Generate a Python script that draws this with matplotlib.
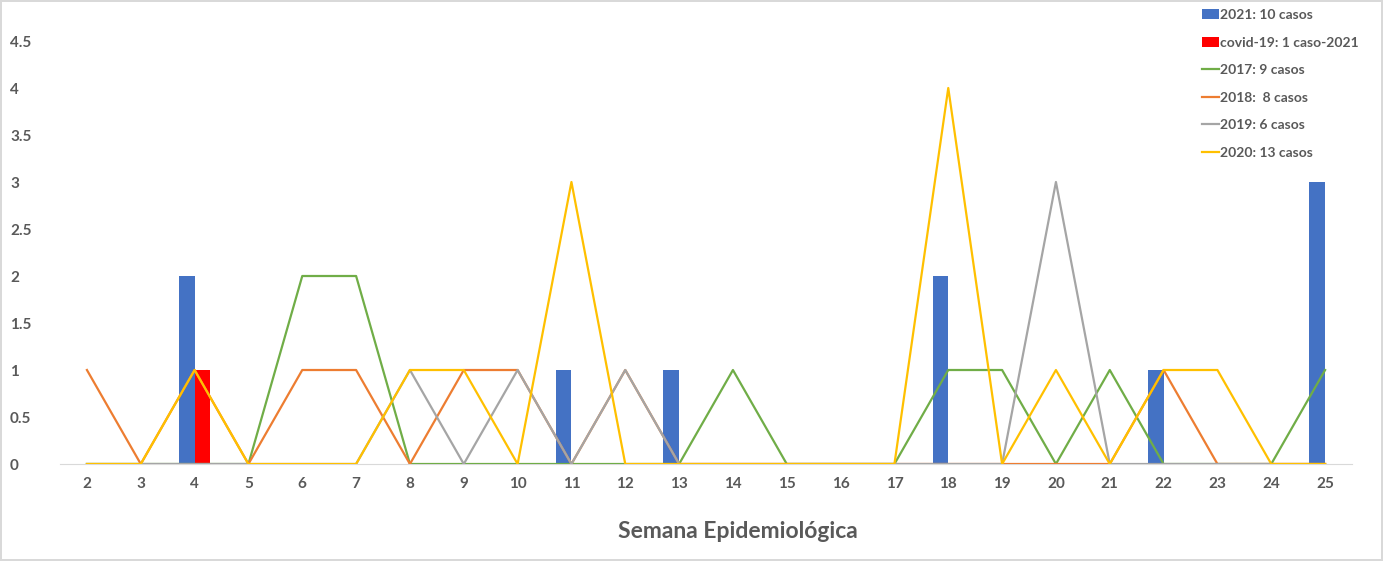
import numpy as np
import matplotlib.pyplot as plt

plt.rcParams['font.family'] = ['Lato', 'DejaVu Sans']

semanas = list(range(2, 26))
casos_2021 = [0, 0, 2, 0, 0, 0, 0, 0, 0, 1, 0, 1, 0, 0, 0, 0, 2, 0, 0, 0, 1, 0, 0, 3]
covid_2021 = [0, 0, 1, 0, 0, 0, 0, 0, 0, 0, 0, 0, 0, 0, 0, 0, 0, 0, 0, 0, 0, 0, 0, 0]
casos_2017 = [0, 0, 0, 0, 2, 2, 0, 0, 0, 0, 0, 0, 1, 0, 0, 0, 1, 1, 0, 1, 0, 0, 0, 1]
casos_2018 = [1, 0, 1, 0, 1, 1, 0, 1, 1, 0, 1, 0, 0, 0, 0, 0, 0, 0, 0, 0, 1, 0, 0, 0]
casos_2019 = [0, 0, 0, 0, 0, 0, 1, 0, 1, 0, 1, 0, 0, 0, 0, 0, 0, 0, 3, 0, 0, 0, 0, 0]
casos_2020 = [0, 0, 1, 0, 0, 0, 1, 1, 0, 3, 0, 0, 0, 0, 0, 0, 4, 0, 1, 0, 1, 1, 0, 0]

etiquetas = ['2021: 10 casos', 'covid-19: 1 caso-2021', '2017: 9 casos',
             '2018:  8 casos', '2019: 6 casos', '2020: 13 casos']

txt = '#595959'
fig = plt.figure(figsize=(13.83, 5.61), dpi=100)
fig.patch.set_edgecolor('#D9D9D9')
fig.patch.set_linewidth(1.5)
ax = fig.add_axes([0.0434, 0.1729, 0.9342, 0.754])

x = np.arange(len(semanas))
w = 0.29
h0 = ax.bar(x - w / 2, casos_2021, w, color='#4472C4', zorder=1)
h1 = ax.bar(x + w / 2, covid_2021, w, color='#FF0000', zorder=1)
h2, = ax.plot(x, casos_2017, color='#70AD47', lw=1.6, zorder=2)
h3, = ax.plot(x, casos_2018, color='#ED7D31', lw=1.6, zorder=3)
h4, = ax.plot(x, casos_2019, color='#A5A5A5', lw=1.6, zorder=4)
h5, = ax.plot(x, casos_2020, color='#FFC000', lw=1.6, zorder=5)

ax.set_xlim(-0.5, len(semanas) - 0.5)
ax.set_ylim(0, 4.5)
ax.set_xticks(x)
ax.set_xticklabels([str(s) for s in semanas])
ax.set_yticks(np.arange(0, 4.51, 0.5))
ax.set_yticklabels(['0', '0.5', '1', '1.5', '2', '2.5', '3', '3.5', '4', '4.5'])
ax.tick_params(axis='both', length=0, labelsize=11, labelcolor=txt)
ax.tick_params(axis='y', pad=36)
ax.tick_params(axis='x', pad=9)
for lab in ax.get_yticklabels():
    lab.set_horizontalalignment('left')
    lab.set_fontweight('bold')
for lab in ax.get_xticklabels():
    lab.set_fontweight('bold')
for s in ['top', 'right', 'left']:
    ax.spines[s].set_visible(False)
ax.spines['bottom'].set_color('#D9D9D9')
ax.spines['bottom'].set_zorder(0)

ax.set_xlabel('Semana Epidemiológica', fontsize=16.5, fontweight='bold', color=txt, labelpad=22)
ax.xaxis.label.set_x(0.525)

leg = ax.legend([h0, h1, h2, h3, h4, h5], etiquetas,
                loc='upper left', bbox_to_anchor=(0.874, 1.105), frameon=False,
                prop={'size': 10, 'weight': 'bold'}, labelcolor=txt,
                handlelength=1.25, handleheight=0.7, handletextpad=0.1,
                labelspacing=1.12)

fig.savefig('out.png', dpi=100)
